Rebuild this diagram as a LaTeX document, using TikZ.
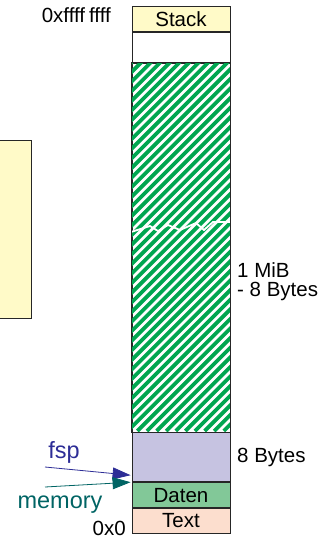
\documentclass[tikz,border=0pt]{standalone}
\usepackage{fontspec}
\setmainfont{Liberation Sans}
\usepackage{tikz}
\usetikzlibrary{positioning}
\usetikzlibrary{arrows.meta}

\definecolor{stackyellow}{RGB}{255,250,200}
\definecolor{heapgreen}{RGB}{0,166,80}
\definecolor{lavender}{RGB}{198,195,225}
\definecolor{datengreen}{RGB}{130,200,152}
\definecolor{textpeach}{RGB}{252,222,206}
\definecolor{fspblue}{RGB}{45,45,150}
\definecolor{memteal}{RGB}{0,100,100}

\begin{document}
\begin{tikzpicture}[x=1pt,y=-1pt,font=\fontsize{20.5}{19}\selectfont,
	block/.style={draw=black!85, line width=0.8pt, minimum width=98pt, inner sep=0pt},
	ptr/.style={line width=0.8pt, -{Triangle[length=18pt,width=12pt]}},
	biglabel/.style={font=\fontsize{23.5}{26}\selectfont, inner sep=0pt, anchor=base}]
	\useasboundingbox (0,0) rectangle (322,541);
	% Side Box %
	\filldraw [fill=stackyellow, draw=black!85, line width=0.8pt] (-5,140) rectangle (31,318);
	% Memory Column %
	\node [block, fill=stackyellow, minimum height=25pt, anchor=north] (stack) at (181,6) {Stack};
	\node [block, fill=white, minimum height=30pt, below=0pt of stack] (free) {};
	\node [block, fill=white, minimum height=369pt, below=0pt of free] (heap) {};
	\node [block, fill=lavender, minimum height=49pt, below=0pt of heap] (frame) {};
	\node [block, fill=datengreen, minimum height=25pt, below=0pt of frame] (daten) {Daten};
	\node [block, fill=textpeach, minimum height=25pt, below=0pt of daten] (text) {Text};
	% Hatching %
	\begin{scope}
		\clip (heap.north west) rectangle (heap.south east);
		\foreach \i in {0,...,52}
			\draw [heapgreen, line width=3.8pt] (132-369+\i*9.6,431) -- ++(370,-370);
		\draw [white, line width=1.8pt] (131,232) -- (150,226) -- (158,231) -- (168,225) -- (180,230) -- (196,223) -- (204,230) -- (213,222) -- (231,222);
	\end{scope}
	\draw [black!85, line width=0.8pt] (heap.north west) rectangle (heap.south east);
	% Labels %
	\node [anchor=base east, inner sep=0pt] (top) at (111,22) {0xffff\hspace{4pt}ffff};
	\node [anchor=base east, inner sep=0pt] (bottom) at (126,535) {0x0};
	\node [anchor=base west, align=left, inner sep=0pt] (mib) at (237,296) {1 MiB\\- 8 Bytes};
	\node [anchor=base west, inner sep=0pt] (eight) at (237,462) {8 Bytes};
	\node [biglabel, text=fspblue] (fsp) at (64,458) {fsp};
	\node [biglabel, text=memteal] (memory) at (60,508) {memory};
	% Pointers %
	\coordinate (fspstart) at (45,467);
	\coordinate (memstart) at (45,487);
	\coordinate (fsptip) at ([shift={(-1,-7)}]frame.south west);
	\coordinate (memtip) at ([shift={(-1,0)}]frame.south west);
	\draw [ptr, fspblue] (fspstart) -- (fsptip);
	\draw [ptr, memteal] (memstart) -- (memtip);
\end{tikzpicture}
\end{document}
